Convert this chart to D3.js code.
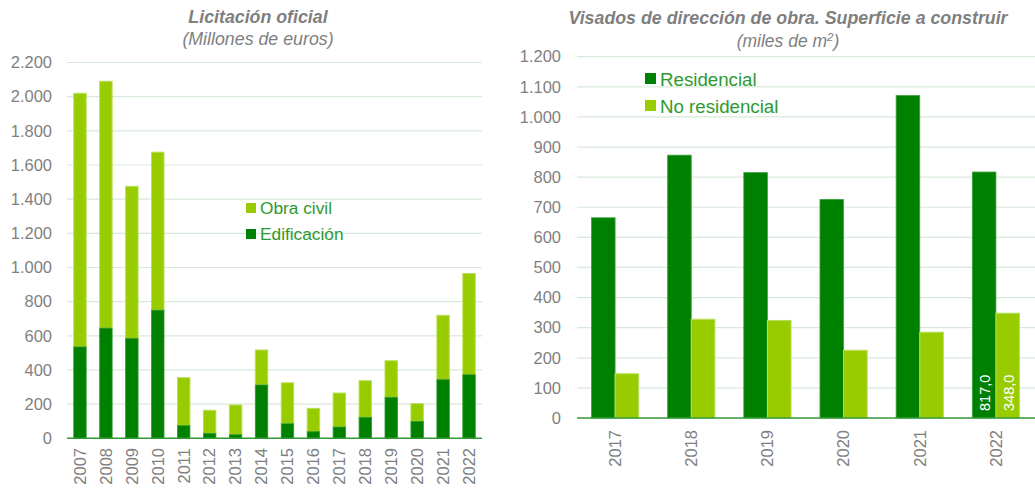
<!DOCTYPE html>
<html><head><meta charset="utf-8">
<script src="https://cdnjs.cloudflare.com/ajax/libs/d3/7.8.5/d3.min.js"></script>
<style>
html,body{margin:0;padding:0;background:#fff;}
svg{display:block;font-family:"Liberation Sans",Arial,sans-serif;}
</style></head><body>
<svg id="c" width="1035" height="489"></svg>
<script>
// ---- Data: left chart (Licitación oficial, millones de euros)
const yearsL = ["2007","2008","2009","2010","2011","2012","2013","2014","2015","2016","2017","2018","2019","2020","2021","2022"];
const edificacion = [535,645,585,750,74,29,21,312,85,39,66,123,240,99,343,372];
const obraCivil   = [1485,1445,890,925,281,135,174,205,240,136,199,214,214,104,377,593];
const ticksL = [0,200,400,600,800,1000,1200,1400,1600,1800,2000,2200];

// ---- Data: right chart (Visados, miles de m2)
const yearsR = ["2017","2018","2019","2020","2021","2022"];
const residencial   = [665,873,815,726,1071,817];
const noResidencial = [147,328,324,225,285,348];
const ticksR = [0,100,200,300,400,500,600,700,800,900,1000,1100,1200];

const DARK = "#008000", LIGHT = "#99cc00", GRID = "#d9e9d9", AXIS = "#339933",
      TXT = "#7f7f7f", LEG = "#2e9a2e";
const fmt = v => d3.format(",")(v).replace(/,/g, ".");
const svg = d3.select("#c");

// ================= LEFT =================
{
  const x = d3.scaleBand().domain(yearsL).range([67, 482]).paddingInner(0.52).paddingOuter(0.26);
  const y = d3.scaleLinear().domain([0, 2200]).range([438.3, 62.5]);
  const g = svg.append("g");
  g.selectAll("line.grid").data(ticksL.filter(t => t > 0)).join("line")
    .attr("x1", 67).attr("x2", 482).attr("y1", d => y(d)).attr("y2", d => y(d))
    .attr("stroke", GRID).attr("stroke-width", 1.2);
  g.selectAll("text.yt").data(ticksL).join("text")
    .attr("x", 52).attr("y", d => y(d)).attr("dy", "0.35em").attr("text-anchor", "end")
    .attr("font-size", 16.5).attr("fill", TXT).text(fmt);
  const stacked = yearsL.map((yr, i) => ({yr, e: edificacion[i], o: obraCivil[i]}));
  g.selectAll("rect.o").data(stacked).join("rect")
    .attr("x", d => x(d.yr)).attr("width", x.bandwidth())
    .attr("y", d => y(d.e + d.o)).attr("height", d => y(d.e) - y(d.e + d.o))
    .attr("fill", LIGHT).attr("stroke", "#b8df5a").attr("stroke-width", 1);
  g.selectAll("rect.e").data(stacked).join("rect")
    .attr("x", d => x(d.yr)).attr("width", x.bandwidth())
    .attr("y", d => y(d.e)).attr("height", d => y(0) - y(d.e))
    .attr("fill", DARK).attr("stroke", "#2f9a2f").attr("stroke-width", 0.8);
  g.append("line").attr("x1", 67).attr("x2", 482).attr("y1", y(0)).attr("y2", y(0))
    .attr("stroke", AXIS).attr("stroke-width", 1.5);
  g.selectAll("text.xt").data(yearsL).join("text")
    .attr("transform", d => `translate(${x(d) + x.bandwidth()/2},448) rotate(-90)`)
    .attr("dy", "0.35em").attr("text-anchor", "end").attr("font-size", 16.5).attr("fill", TXT).text(d => d);
  g.append("text").attr("x", 258).attr("y", 23).attr("text-anchor", "middle")
    .attr("font-size", 17.8).attr("font-weight", "bold").attr("font-style", "italic").attr("fill", TXT)
    .text("Licitación oficial");
  g.append("text").attr("x", 258).attr("y", 45).attr("text-anchor", "middle")
    .attr("font-size", 17.8).attr("font-style", "italic").attr("fill", TXT)
    .text("(Millones de euros)");
  const leg = [["Obra civil", LIGHT, 208], ["Edificación", DARK, 234]];
  leg.forEach(([t, c, cy]) => {
    g.append("rect").attr("x", 246).attr("y", cy - 5).attr("width", 10).attr("height", 10).attr("fill", c);
    g.append("text").attr("x", 260).attr("y", cy).attr("dy", "0.35em").attr("font-size", 17.3)
      .attr("fill", LEG).text(t);
  });
}

// ================= RIGHT =================
{
  const x0 = d3.scaleBand().domain(yearsR).range([577, 1034]).paddingInner(0.38).paddingOuter(0.19);
  const x1 = d3.scaleBand().domain(["r", "n"]).range([0, x0.bandwidth()]);
  const y = d3.scaleLinear().domain([0, 1200]).range([418, 56.7]);
  const g = svg.append("g");
  g.selectAll("line.grid").data(ticksR.filter(t => t > 0)).join("line")
    .attr("x1", 577).attr("x2", 1035).attr("y1", d => y(d)).attr("y2", d => y(d))
    .attr("stroke", GRID).attr("stroke-width", 1.2);
  g.selectAll("text.yt").data(ticksR).join("text")
    .attr("x", 561).attr("y", d => y(d)).attr("dy", "0.35em").attr("text-anchor", "end")
    .attr("font-size", 16.5).attr("fill", TXT).text(fmt);
  const rows = yearsR.map((yr, i) => ({yr, r: residencial[i], n: noResidencial[i]}));
  g.selectAll("rect.r").data(rows).join("rect")
    .attr("x", d => x0(d.yr) + x1("r")).attr("width", x1.bandwidth())
    .attr("y", d => y(d.r)).attr("height", d => y(0) - y(d.r))
    .attr("fill", DARK).attr("stroke", "#3da33d").attr("stroke-width", 0.8);
  g.selectAll("rect.n").data(rows).join("rect")
    .attr("x", d => x0(d.yr) + x1("n")).attr("width", x1.bandwidth())
    .attr("y", d => y(d.n)).attr("height", d => y(0) - y(d.n))
    .attr("fill", LIGHT).attr("stroke", "#b8df5a").attr("stroke-width", 1);
  g.append("line").attr("x1", 577).attr("x2", 1035).attr("y1", y(0)).attr("y2", y(0))
    .attr("stroke", AXIS).attr("stroke-width", 1.5);
  // value labels on last year
  const last = rows[rows.length - 1];
  const fmtC = v => d3.format(".1f")(v).replace(".", ",");
  [["r", last.r], ["n", last.n]].forEach(([k, v]) => {
    g.append("text")
      .attr("transform", `translate(${x0(last.yr) + x1(k) + x1.bandwidth()/2 + 1},411) rotate(-90)`)
      .attr("dy", "0.35em").attr("text-anchor", "start").attr("font-size", 14.5).attr("fill", "#fff")
      .text(fmtC(v));
  });
  g.selectAll("text.xt").data(yearsR).join("text")
    .attr("transform", d => `translate(${x0(d) + x0.bandwidth()/2},430) rotate(-90)`)
    .attr("dy", "0.35em").attr("text-anchor", "end").attr("font-size", 16.5).attr("fill", TXT).text(d => d);
  g.append("text").attr("x", 788).attr("y", 24).attr("text-anchor", "middle")
    .attr("font-size", 17.8).attr("font-weight", "bold").attr("font-style", "italic").attr("fill", TXT)
    .text("Visados de dirección de obra. Superficie a construir");
  const sub = g.append("text").attr("x", 788).attr("y", 47).attr("text-anchor", "middle")
    .attr("font-size", 17.5).attr("font-style", "italic").attr("fill", TXT);
  sub.append("tspan").text("(miles de m");
  sub.append("tspan").attr("font-size", 11.5).attr("dy", -6).text("2");
  sub.append("tspan").attr("dy", 6).text(")");
  const leg = [["Residencial", DARK, 79], ["No residencial", LIGHT, 106]];
  leg.forEach(([t, c, cy]) => {
    g.append("rect").attr("x", 645).attr("y", cy - 6).attr("width", 11).attr("height", 11).attr("fill", c);
    g.append("text").attr("x", 660).attr("y", cy).attr("dy", "0.35em").attr("font-size", 18.7)
      .attr("fill", LEG).text(t);
  });
}
</script>
</body></html>
